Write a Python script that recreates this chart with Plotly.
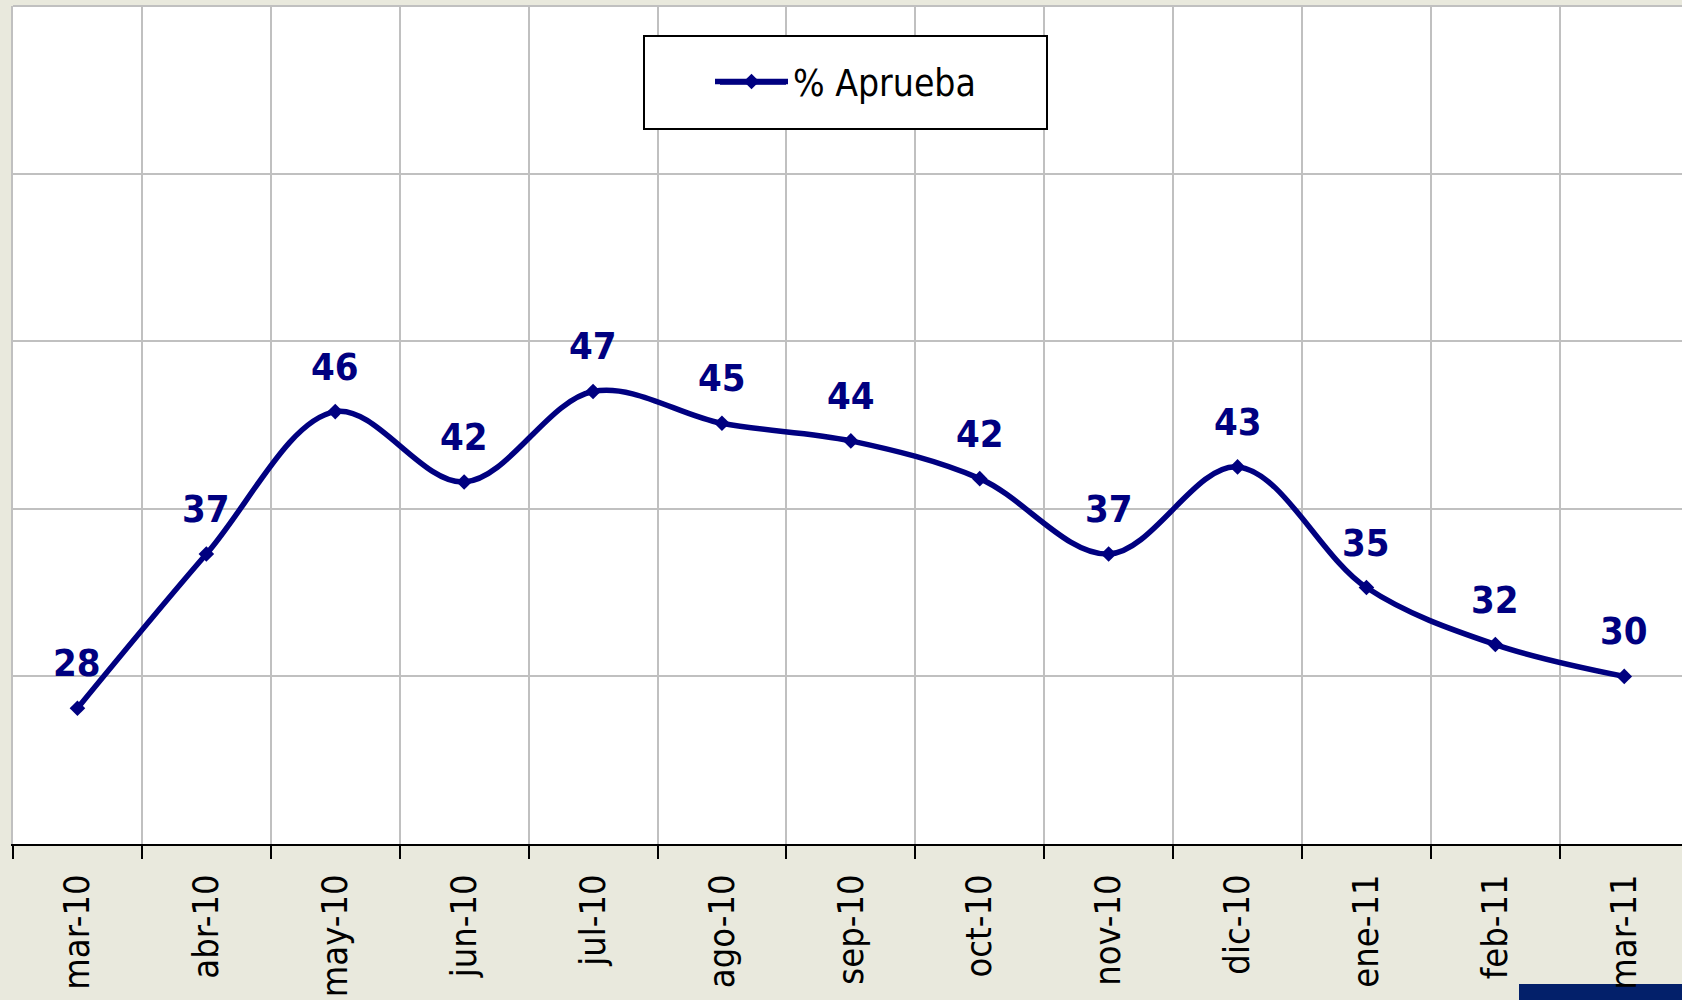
import plotly.graph_objects as go

months = ["mar-10", "abr-10", "may-10", "jun-10", "jul-10", "ago-10", "sep-10",
          "oct-10", "nov-10", "dic-10", "ene-11", "feb-11", "mar-11"]
aprueba = [28.1, 37.3, 45.8, 41.6, 47.0, 45.1, 44.05, 41.8, 37.3, 42.5, 35.3, 31.9, 30.0]
labels = ["28", "37", "46", "42", "47", "45", "44", "42", "37", "43", "35", "32", "30"]

NAVY = "#000080"
FONT = "DejaVu Sans Condensed"
W, H = 1682, 1000
ML, MR, MT, MB = 13, 0, 6, 156
pw = W - ML - MR
ph = H - MT - MB

def px_x(p):
    return (p - ML) / pw

def px_y(p):
    return (H - MB - p) / ph

fig = go.Figure()
fig.add_trace(go.Scatter(
    x=months, y=aprueba, mode="lines+markers", name="% Aprueba",
    line=dict(color=NAVY, width=5.5, shape="spline", smoothing=1.0),
    marker=dict(symbol="diamond", size=12, color=NAVY),
))

for m, v, t in zip(months, aprueba, labels):
    fig.add_annotation(x=m, y=v, text=f"<b>{t}</b>", showarrow=False, yshift=45,
                       font=dict(family=FONT, size=38, color=NAVY))

# legend box
fig.add_shape(type="rect", xref="paper", yref="paper",
              x0=px_x(644), x1=px_x(1047), y0=px_y(129), y1=px_y(36),
              line=dict(color="black", width=2), fillcolor="white", layer="above")
# legend symbol line (longer, as in the original)
fig.add_shape(type="line", xref="paper", yref="paper",
              x0=px_x(720), x1=px_x(786), y0=px_y(82), y1=px_y(82),
              line=dict(color=NAVY, width=5.5), layer="above")
# top border line
fig.add_shape(type="line", xref="paper", yref="paper", x0=0, x1=1, y0=1, y1=1,
              line=dict(color="#C0C0C0", width=2), layer="below")
# decorative bar bottom right
fig.add_shape(type="rect", xref="paper", yref="paper",
              x0=px_x(1519), x1=1.01, y0=px_y(1005), y1=px_y(984),
              line=dict(width=0), fillcolor="#03206A", layer="below")

fig.update_layout(
    width=W, height=H, autosize=False,
    margin=dict(l=ML, r=MR, t=MT, b=MB, pad=0),
    paper_bgcolor="#E9E9DD", plot_bgcolor="white",
    showlegend=True,
    legend=dict(x=px_x(710), y=px_y(82), xanchor="left", yanchor="middle",
                bgcolor="rgba(0,0,0,0)", borderwidth=0, itemwidth=73,
                font=dict(family=FONT, size=37, color="black")),
    xaxis=dict(type="category", range=[-0.5, -0.5 + pw / 128.9],
               tickson="boundaries", ticks="outside", ticklen=13, tickwidth=2, tickcolor="black",
               showline=True, linecolor="black", linewidth=2,
               showgrid=True, gridcolor="#C0C0C0", gridwidth=2,
               tickangle=-90, tickfont=dict(family=FONT, size=36, color="black"),
               ticklabelstandoff=14, fixedrange=True),
    yaxis=dict(range=[20, 70], dtick=10, tick0=20, showticklabels=False, ticks="",
               showgrid=True, gridcolor="#C0C0C0", gridwidth=2, zeroline=False,
               showline=True, linecolor="#C0C0C0", linewidth=2, fixedrange=True),
)

fig.write_html("out.html", config={"displayModeBar": False},
               post_script="document.body.style.margin='0';document.body.style.overflow='hidden';")
